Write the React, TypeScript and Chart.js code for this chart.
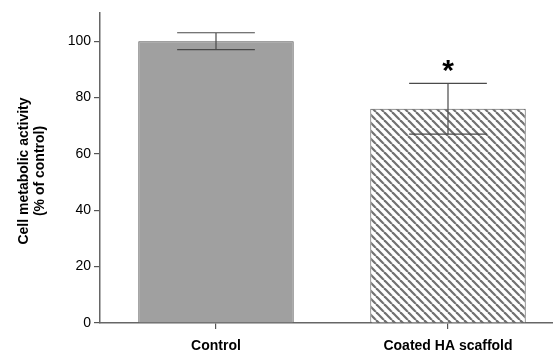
import React, { useEffect, useRef } from "react";
import { Chart, registerables } from "chart.js";

Chart.register(...registerables);

const categories = ["Control", "Coated HA scaffold"];
const means = [100, 76];
const errors = [3, 9];
const significance = ["", "*"];
const yTickValues = [0, 20, 40, 60, 80, 100];
const yTitleLines = ["Cell metabolic activity", "(% of control)"];

function makeHatch(): CanvasPattern | string {
  const c = document.createElement("canvas");
  c.width = 8;
  c.height = 8;
  const ctx = c.getContext("2d");
  if (!ctx) return "#fff";
  ctx.fillStyle = "#ffffff";
  ctx.fillRect(0, 0, 8, 8);
  ctx.strokeStyle = "#707070";
  ctx.lineWidth = 2.2;
  for (let k = -1; k <= 1; k++) {
    ctx.beginPath();
    ctx.moveTo(k * 8, 0);
    ctx.lineTo(k * 8 + 8, 8);
    ctx.stroke();
  }
  const p = ctx.createPattern(c, "repeat");
  return p || "#fff";
}

const errorBarPlugin = {
  id: "errorBars",
  afterDatasetsDraw(chart: any) {
    const ctx = chart.ctx;
    const y = chart.scales.y;
    const meta = chart.getDatasetMeta(0);
    ctx.save();
    meta.data.forEach((bar: any, i: number) => {
      const x = bar.x;
      const half = bar.width / 4;
      const yTop = y.getPixelForValue(means[i] + errors[i]);
      const yBot = y.getPixelForValue(means[i] - errors[i]);
      ctx.strokeStyle = "#4a4a4a";
      ctx.lineWidth = 1.2;
      ctx.beginPath();
      ctx.moveTo(x, yTop);
      ctx.lineTo(x, yBot);
      ctx.moveTo(x - half, yTop);
      ctx.lineTo(x + half, yTop);
      ctx.moveTo(x - half, yBot);
      ctx.lineTo(x + half, yBot);
      ctx.stroke();
      if (significance[i]) {
        ctx.fillStyle = "#000";
        ctx.font = "bold 30px 'Liberation Sans', Arial, sans-serif";
        ctx.textAlign = "center";
        ctx.textBaseline = "middle";
        ctx.fillText(significance[i], x, yTop - 12);
      }
    });
    ctx.restore();
  },
};

const yTitlePlugin = {
  id: "yTitle",
  afterDraw(chart: any) {
    const ctx = chart.ctx;
    const area = chart.chartArea;
    const cy = (area.top + area.bottom) / 2 + 3;
    ctx.save();
    ctx.fillStyle = "#000";
    ctx.font = "bold 14px 'Liberation Sans', Arial, sans-serif";
    ctx.textAlign = "center";
    ctx.textBaseline = "middle";
    const xs = [24, 40];
    yTitleLines.forEach((line, i) => {
      ctx.save();
      ctx.translate(xs[i], cy);
      ctx.rotate(-Math.PI / 2);
      ctx.fillText(line, 0, 0);
      ctx.restore();
    });
    ctx.restore();
  },
};

export default function App() {
  const ref = useRef<HTMLCanvasElement | null>(null);
  useEffect(() => {
    if (!ref.current) return;
    const hatch = makeHatch();
    const chart = new Chart(ref.current, {
      type: "bar",
      data: {
        labels: categories,
        datasets: [
          {
            data: means,
            backgroundColor: ["#a0a0a0", hatch as any],
            borderColor: ["#555555", "#555555"],
            borderWidth: 1,
            barPercentage: 0.67,
            categoryPercentage: 1,
          },
        ],
      },
      options: {
        animation: false,
        responsive: false,
        devicePixelRatio: 1,
        layout: { padding: { top: 13, right: 2, left: 0, bottom: 0 } },
        plugins: { legend: { display: false }, tooltip: { enabled: false } },
        scales: {
          x: {
            afterFit: (s: any) => {
              s.height = 35;
            },
            grid: {
              drawOnChartArea: false,
              drawTicks: true,
              tickLength: 6,
              color: "#555555",
              lineWidth: 1.2,
              offset: false,
            },
            border: { display: true, color: "#666666", width: 1.5 },
            ticks: {
              color: "#000",
              padding: 9,
              font: { family: "'Liberation Sans', Arial, sans-serif", size: 14, weight: "bold" },
            },
          },
          y: {
            min: 0,
            max: 110,
            afterFit: (s: any) => {
              s.width = 100;
            },
            afterBuildTicks: (s: any) => {
              s.ticks = yTickValues.map((v) => ({ value: v }));
            },
            grid: {
              drawOnChartArea: false,
              drawTicks: true,
              tickLength: 6,
              color: "#555555",
              lineWidth: 1.2,
            },
            border: { display: true, color: "#666666", width: 1.5 },
            ticks: {
              color: "#000",
              padding: 3,
              font: { family: "'Liberation Sans', Arial, sans-serif", size: 14 },
            },
          },
        },
      },
      plugins: [errorBarPlugin, yTitlePlugin],
    });
    return () => chart.destroy();
  }, []);
  return (
    <div
      style={{
        position: "fixed",
        left: 0,
        top: 0,
        width: 553,
        height: 358,
        overflow: "hidden",
        background: "#fff",
      }}
    >
      <canvas ref={ref} width={566} height={358} style={{ display: "block" }} />
    </div>
  );
}
